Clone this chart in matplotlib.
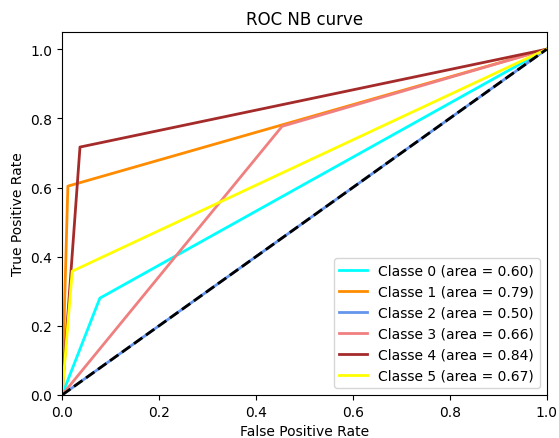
import matplotlib
matplotlib.use("Agg")
import matplotlib.pyplot as plt

classes = ["Classe 0", "Classe 1", "Classe 2", "Classe 3", "Classe 4", "Classe 5"]
aucs = [0.60, 0.79, 0.50, 0.66, 0.84, 0.67]
fpr = [
    [0.0, 0.078, 1.0],
    [0.0, 0.012, 1.0],
    [0.0, 1.0],
    [0.0, 0.454, 1.0],
    [0.0, 0.037, 1.0],
    [0.0, 0.021, 1.0],
]
tpr = [
    [0.0, 0.280, 1.0],
    [0.0, 0.604, 1.0],
    [0.0, 1.0],
    [0.0, 0.777, 1.0],
    [0.0, 0.717, 1.0],
    [0.0, 0.358, 1.0],
]
colors = ["aqua", "darkorange", "cornflowerblue", "lightcoral", "brown", "yellow"]

fig = plt.figure(figsize=(5.59, 4.39), dpi=100)
ax = fig.add_axes([0.111, 0.098, 0.867, 0.827])
for name, a, x, y, c in zip(classes, aucs, fpr, tpr, colors):
    ax.plot(x, y, color=c, lw=2, label=f"{name} (area = {a:0.2f})")
ax.plot([0, 1], [0, 1], "k--", lw=2)
ax.set_xlim(0.0, 1.0)
ax.set_ylim(0.0, 1.05)
ax.set_xlabel("False Positive Rate")
ax.set_ylabel("True Positive Rate")
ax.set_title("ROC NB curve")
ax.legend(loc="lower right")
fig.savefig("out.png", dpi=100)
